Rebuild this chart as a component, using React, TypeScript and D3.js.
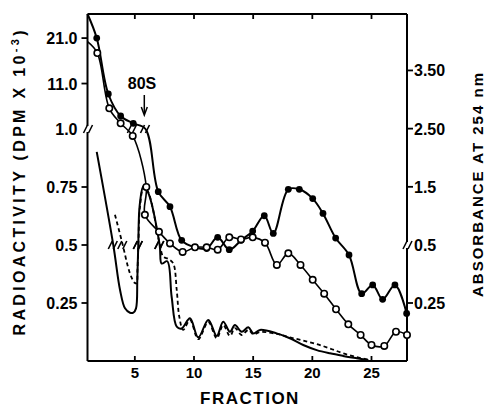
import React from 'react';
import * as d3 from 'd3';

// fractions along the gradient
const fracTicks = [5, 10, 15, 20, 25];

// left axis: radioactivity (DPM x 10^-3), broken at 1.0
const leftTicks = [21.0, 11.0, 1.0, 0.75, 0.5, 0.25];
const leftTickLabels = ['21.0', '11.0', '1.0', '0.75', '0.5', '0.25'];

// right axis: absorbance at 254 nm, broken at 0.5
const rightTicks = [3.5, 2.5, 1.5, 0.5, 0.25];
const rightTickLabels = ['3.50', '2.50', '1.5', '0.5', '0.25'];

// radioactivity, filled circles [fraction, value]
const filledDpm: [number, number][] = [
  [1.0, 26.3], [1.78, 21.0], [2.76, 8.7], [3.8, 3.86], [4.87, 2.25], [5.9, 1.0],
  [6.98, 0.73], [7.97, 0.665], [8.96, 0.52], [10.08, 0.49], [11.07, 0.485],
  [12.0, 0.533], [12.98, 0.48], [13.97, 0.52], [14.96, 0.56], [15.94, 0.626],
  [16.7, 0.55], [17.97, 0.74], [18.9, 0.74], [20.03, 0.7], [20.9, 0.636],
  [21.97, 0.53], [23.1, 0.457], [24.17, 0.29], [25.1, 0.328], [25.94, 0.266],
  [26.98, 0.328], [27.97, 0.205],
];

// radioactivity, open circles
const openDpm: [number, number][] = [
  [1.0, 20.2], [1.83, 17.7], [2.84, 5.55], [3.8, 2.25], [4.82, 0.97], [5.97, 0.75],
  [5.85, 0.63], [7.04, 0.557], [7.97, 0.507], [9.04, 0.47], [10.08, 0.49],
  [11.07, 0.49], [12.0, 0.48], [12.98, 0.533], [13.97, 0.524], [14.96, 0.533],
  [16.0, 0.51], [17.0, 0.414], [17.97, 0.464], [19.0, 0.414], [20.03, 0.35],
  [21.0, 0.29], [22.0, 0.223], [23.04, 0.158], [24.08, 0.112], [25.0, 0.069],
  [26.08, 0.065], [27.07, 0.126], [28.0, 0.112],
];

// absorbance trace, solid
const a254Solid: [number, number][] = [
  [1.78, 2.1], [3.18, 0.5], [3.75, 0.306], [4.17, 0.227], [4.59, 0.208], [4.87, 0.208],
  [5.1, 0.227], [5.21, 0.35], [5.29, 0.5], [5.41, 1.18], [5.73, 1.51], [6.11, 1.41],
  [7.1, 0.5], [7.27, 0.42], [7.74, 0.43], [8.11, 0.277], [8.54, 0.148], [8.96, 0.14],
  [9.66, 0.184], [10.36, 0.102], [11.21, 0.177], [11.92, 0.108], [12.47, 0.169],
  [13.04, 0.126], [13.46, 0.155], [14.03, 0.126], [14.59, 0.145], [15.01, 0.119],
  [15.58, 0.134], [16.99, 0.119], [18.1, 0.098], [19.23, 0.069], [20.37, 0.047],
  [21.49, 0.033], [22.6, 0.022], [23.75, 0.012], [24.73, 0.004],
];

// absorbance trace, dashed
const a254Dashed: [number, number][] = [
  [3.32, 1.02], [3.98, 0.5], [4.42, 0.406], [4.7, 0.363], [4.98, 0.337], [5.15, 0.335],
  [5.22, 0.39], [5.3, 0.5], [5.43, 1.15], [5.76, 1.5], [6.15, 1.4], [7.12, 0.5],
  [7.4, 0.45], [7.83, 0.44], [8.25, 0.42], [8.54, 0.306], [8.76, 0.19], [9.09, 0.134],
  [9.66, 0.177], [10.36, 0.094], [11.21, 0.168], [11.92, 0.098], [12.47, 0.155],
  [13.04, 0.108], [13.46, 0.142], [14.03, 0.112], [14.59, 0.134], [15.01, 0.115],
  [15.58, 0.125], [16.99, 0.117], [18.1, 0.102], [19.23, 0.088], [20.37, 0.073],
  [21.49, 0.054], [22.6, 0.033], [23.75, 0.017], [24.85, 0.004],
];

const W = 486;
const H = 409;
const X0 = 87.5, X1 = 407, YT = 14, YB = 361;
const LBREAK = 1.0;
const RBREAK = 0.5;
const font = "'Liberation Sans', Arial, sans-serif";

const x = d3.scaleLinear().domain([1, 28]).range([X0, X1]);
const yL = d3.scaleLinear().domain([0, LBREAK, 26.3]).range([YB, 129, YT]);
const yR = d3.scaleLinear().domain([0, RBREAK, 4.47]).range([YB, 245, YT]);

function crossings(pts: [number, number][], b: number, y: any) {
  const out: [number, number][] = [];
  for (let i = 1; i < pts.length; i++) {
    const [f0, v0] = pts[i - 1];
    const [f1, v1] = pts[i];
    if ((v0 >= b) !== (v1 >= b)) {
      const t = (b - v0) / (v1 - v0);
      out.push([x(f0 + t * (f1 - f0)), y(b)]);
    }
  }
  return out;
}

const Slashes = ({ cx, cy }: { cx: number; cy: number }) => (
  <g stroke="#000" strokeWidth={1.6}>
    <line x1={cx - 5} y1={cy + 4} x2={cx - 1} y2={cy - 4} />
    <line x1={cx} y1={cy + 4} x2={cx + 4} y2={cy - 4} />
  </g>
);

export default function App() {
  const curve = d3.curveCatmullRom.alpha(0.5);
  const lineL = d3.line<[number, number]>().x(d => x(d[0])).y(d => yL(d[1])).curve(curve);
  const lineR = d3.line<[number, number]>().x(d => x(d[0])).y(d => yR(d[1])).curve(curve);

  const marks = [
    ...crossings(filledDpm, LBREAK, yL),
    ...crossings(openDpm, LBREAK, yL),
    ...crossings(a254Solid, RBREAK, yR),
    ...crossings(a254Dashed, RBREAK, yR),
  ];
  const dotted = (d: [number, number]) => d[0] > 1.2 && d[1] !== LBREAK;

  return (
    <svg width={W} height={H} style={{ position: 'absolute', left: 0, top: 0, background: '#fff' }}
      fontFamily={font} fontWeight="bold">
      {/* frame */}
      <g stroke="#000" strokeWidth={2} fill="none">
        <line x1={X0} y1={YT} x2={X1} y2={YT} />
        <line x1={X0} y1={YB} x2={X1} y2={YB} />
        <line x1={X0} y1={YT} x2={X0} y2={yL(LBREAK) - 3} />
        <line x1={X0} y1={yL(LBREAK) + 3} x2={X0} y2={YB} />
        <line x1={X1} y1={YT} x2={X1} y2={yR(RBREAK) - 3} />
        <line x1={X1} y1={yR(RBREAK) + 3} x2={X1} y2={YB} />
      </g>
      <Slashes cx={X0 + 1} cy={yL(LBREAK)} />
      <Slashes cx={X1 + 1} cy={yR(RBREAK)} />

      {/* fraction ticks, top and bottom, inward */}
      {fracTicks.map(f => (
        <g key={f} stroke="#000" strokeWidth={1.8}>
          <line x1={x(f)} x2={x(f)} y1={YB} y2={YB - 5} />
          <line x1={x(f)} x2={x(f)} y1={YT} y2={YT + 5} />
        </g>
      ))}
      {fracTicks.map(f => (
        <text key={'t' + f} x={x(f)} y={YB + 17} fontSize={15} textAnchor="middle">{f}</text>
      ))}

      {/* left ticks */}
      {leftTicks.map((v, i) => (
        <g key={'l' + i}>
          {v !== LBREAK && <line x1={X0 - 6} x2={X0} y1={yL(v)} y2={yL(v)} stroke="#000" strokeWidth={1.8} />}
          <text x={X0 - 10} y={yL(v) + 6} fontSize={16} textAnchor="end">{leftTickLabels[i]}</text>
        </g>
      ))}

      {/* right ticks */}
      {rightTicks.map((v, i) => (
        <g key={'r' + i}>
          {v !== RBREAK && <line x1={X1} x2={X1 + 6} y1={yR(v)} y2={yR(v)} stroke="#000" strokeWidth={1.8} />}
          <text x={X1 + 7} y={yR(v) + 6} fontSize={16}>{rightTickLabels[i]}</text>
        </g>
      ))}

      {/* absorbance traces */}
      <path d={lineR(a254Solid) || ''} fill="none" stroke="#000" strokeWidth={2} />
      <path d={lineR(a254Dashed) || ''} fill="none" stroke="#000" strokeWidth={1.8} strokeDasharray="4,3" />

      {/* radioactivity */}
      <path d={lineL(filledDpm) || ''} fill="none" stroke="#000" strokeWidth={2} />
      <path d={lineL(openDpm) || ''} fill="none" stroke="#000" strokeWidth={1.6} />
      {filledDpm.filter(dotted).map((d, i) => (
        <circle key={'f' + i} cx={x(d[0])} cy={yL(d[1])} r={3.4} fill="#000" />
      ))}
      {openDpm.filter(dotted).map((d, i) => (
        <circle key={'o' + i} cx={x(d[0])} cy={yL(d[1])} r={3.2} fill="#fff" stroke="#000" strokeWidth={1.6} />
      ))}

      {marks.map((m, i) => <Slashes key={'b' + i} cx={m[0]} cy={m[1]} />)}

      {/* 80S marker */}
      <text x={142} y={89} fontSize={16} textAnchor="middle">80S</text>
      <line x1={x(5.8)} x2={x(5.8)} y1={95} y2={113} stroke="#000" strokeWidth={1.5} />
      <path d={`M${x(5.8) - 3},${107} L${x(5.8)},${115} L${x(5.8) + 3},${107}`} fill="none" stroke="#000" strokeWidth={1.5} />

      {/* axis titles */}
      <text x={250} y={404} fontSize={17} textAnchor="middle" letterSpacing={1.5}>FRACTION</text>
      <text transform="translate(25,183) rotate(-90)" fontSize={16} textAnchor="middle"
        textLength={305} lengthAdjust="spacing">
        RADIOACTIVITY (DPM X 10<tspan dy={-6} fontSize={11}>-3</tspan><tspan dy={6}>)</tspan>
      </text>
      <text transform="translate(483,185) rotate(-90)" fontSize={15} textAnchor="middle"
        textLength={224} lengthAdjust="spacing">
        ABSORBANCE AT 254 nm
      </text>
    </svg>
  );
}
